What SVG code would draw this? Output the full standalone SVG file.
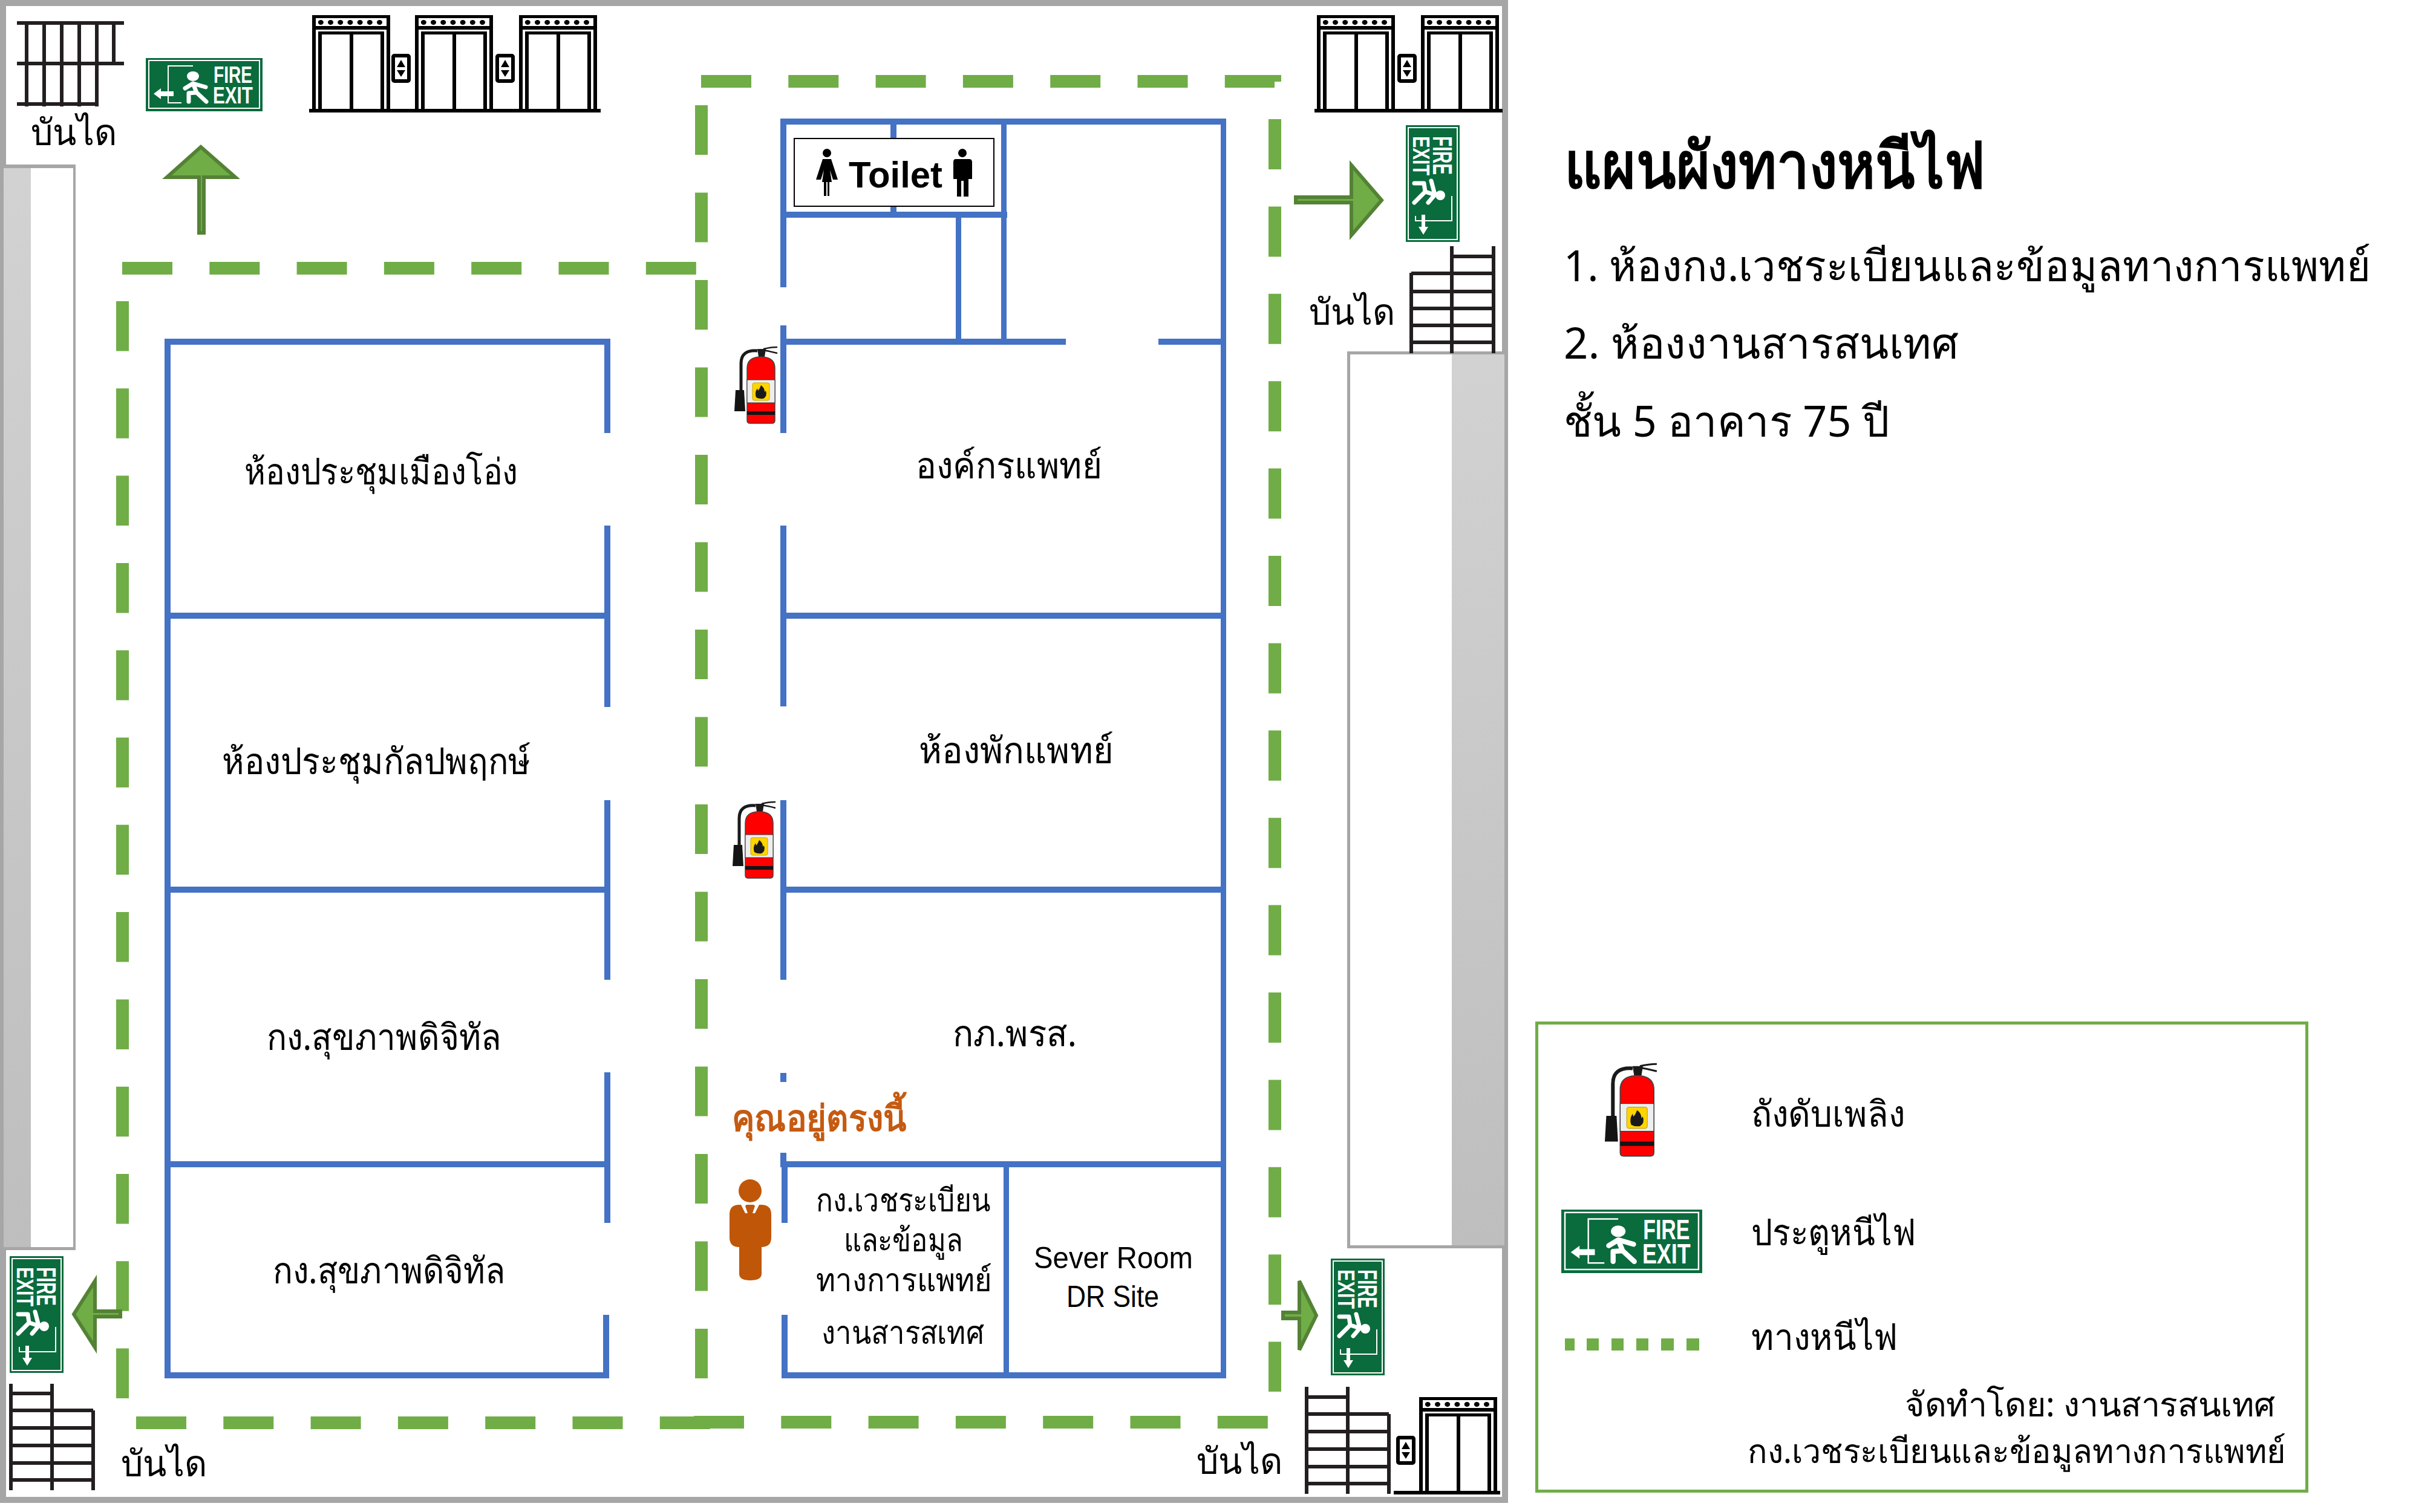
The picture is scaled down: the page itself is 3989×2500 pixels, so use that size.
<svg xmlns="http://www.w3.org/2000/svg" width="3989" height="2500" viewBox="0 0 3989 2500">
<style>
text{font-family:"Noto Sans","DejaVu Sans","Liberation Sans",sans-serif;fill:#000}
.r{font-size:60px}.r2{font-size:53px}.l{font-size:71px}.k{font-size:60px}
.h{font-size:105px;font-weight:700}.b{font-size:60px}.f{font-size:56px}
.w{fill:#4472c4}.g{fill:#a6a6a6}.bk{fill:#000}
.s{stroke:#231f20;stroke-width:6;fill:none}
.a{fill:#70ad47;stroke:#548235;stroke-width:6}
.dash{fill:none;stroke:#70ad47;stroke-width:21}
.si{fill:#0a6b3d}.sl{fill:none;stroke:#fff;stroke-width:2}
.fg{fill:none;stroke:#fff;stroke-width:7;stroke-linecap:round;stroke-linejoin:round}
.st{font-family:"Liberation Sans",sans-serif;font-weight:700;fill:#fff}
.lat{font-family:"Liberation Sans",sans-serif;font-size:50px}
</style>
<defs>
<linearGradient id="gr" x1="0" y1="0" x2="0" y2="1"><stop offset="0" stop-color="#d2d2d2"/><stop offset="1" stop-color="#bebebe"/></linearGradient>
<g id="lift" class="bk">
<rect x="0" y="0" width="129" height="5" rx="2"/><rect x="0" y="18" width="129" height="6"/>
<rect x="0" y="0" width="6" height="155"/><rect x="123" y="0" width="6" height="155"/>
<rect x="10" y="27" width="109" height="5" rx="2"/><rect x="10" y="27" width="6" height="128"/><rect x="113" y="27" width="6" height="128"/><rect x="62" y="30" width="6" height="125"/>
<ellipse cx="14.3" cy="12" rx="4.5" ry="4"/><ellipse cx="30.5" cy="12" rx="4.5" ry="4"/><ellipse cx="46.7" cy="12" rx="4.5" ry="4"/><ellipse cx="62.9" cy="12" rx="4.5" ry="4"/><ellipse cx="79.1" cy="12" rx="4.5" ry="4"/><ellipse cx="95.3" cy="12" rx="4.5" ry="4"/><ellipse cx="111.5" cy="12" rx="4.5" ry="4"/>
</g>
<g id="panel">
<rect x="3" y="3" width="26" height="42" rx="2" fill="#fff" stroke="#000" stroke-width="6"/>
<path d="M16 10L23 22H9ZM9 27H23L16 38Z" fill="#000"/>
</g>
<g id="signH">
<rect class="si" width="193" height="88"/><rect class="sl" x="5" y="4" width="183" height="79"/>
<path class="sl" d="M78 13H37V74H59"/>
<path d="M13 59L25 50V55H46V63H25V68Z" fill="#fff"/>
<ellipse cx="78" cy="30" rx="10" ry="8" fill="#fff"/>
<path class="fg" d="M65 50L78 42L99 48M78 42L84 57L100 72M84 57L71 58V72"/>
<text class="st" x="112" y="41" font-size="38" textLength="64" lengthAdjust="spacingAndGlyphs">FIRE</text>
<text class="st" x="111" y="75" font-size="38" textLength="66" lengthAdjust="spacingAndGlyphs">EXIT</text>
</g>
<g id="signV">
<rect class="si" width="89" height="193"/><rect class="sl" x="4" y="4" width="81" height="185"/>
<path class="sl" d="M76 117V158H16V150"/>
<path d="M29 181L21 168H26V148H32V168H37Z" fill="#fff"/>
<circle cx="57" cy="116" r="8" fill="#fff"/>
<path class="fg" stroke-width="6" d="M42 92L48 115L37 128M48 115L32 110L14 128M32 110L30 96H14"/>
<text class="st" font-size="45" transform="translate(45 18) rotate(90)" textLength="64" lengthAdjust="spacingAndGlyphs">FIRE</text>
<text class="st" font-size="39" transform="translate(12 18) rotate(90)" textLength="65" lengthAdjust="spacingAndGlyphs">EXIT</text>
</g>
<g id="ext">
<path d="M38 7Q11 5 11 28V72" fill="none" stroke="#1a1a1a" stroke-width="5"/>
<path d="M2 72H16L18 107H0Z" fill="#141414"/>
<path d="M38 4H52L50 17H40Z" fill="#1a1a1a"/>
<path d="M48 4Q60 1 71 1M48 6Q60 8 71 11" fill="none" stroke="#1a1a1a" stroke-width="2.5"/>
<path d="M21 122V36Q21 17 44 17Q67 17 67 36V122Q67 127 62 127H26Q21 127 21 122Z" fill="#f00" stroke="#444" stroke-width="1.5"/>
<rect x="21" y="55" width="46" height="38" fill="#eee" stroke="#333" stroke-width="1"/>
<rect x="30" y="60" width="28" height="29" rx="3" fill="#ffd500" stroke="#c9a400"/>
<path d="M44 64Q42 70 39 73L38 69Q33 76 36 84Q41 87 48 86Q55 82 52 73L50 75Q50 68 44 64Z" fill="#1a1a1a"/>
<rect x="21" y="107" width="46" height="6" fill="#141414"/>
</g>
</defs>
<rect width="3989" height="2500" fill="#fff"/>

<g id="frame">
<rect x="5" y="5" width="2483" height="2475" fill="none" stroke="#a6a6a6" stroke-width="10"/>
<rect x="6" y="278" width="45" height="1784" fill="url(#gr)"/>
<path class="g" d="M6 272H125V2067H6V2062H121V278H6Z"/>
<rect x="2400" y="586" width="87" height="1473" fill="url(#gr)"/>
<path class="g" d="M2227 581H2488V586H2232V2059H2488V2064H2227Z"/>
</g>

<g id="exit-routes">
<path class="dash" stroke-dasharray="83 61.3" d="M202 443.5H1152"/>
<path class="dash" stroke-dasharray="82.5 61.8" d="M202.500 498V2313"/>
<path class="dash" stroke-dasharray="83 61.3" d="M225 2352.500H1174"/>
<path class="dash" stroke-dasharray="82 62.5" d="M1159.500 174V2363"/>
<path class="dash" stroke-dasharray="83 61.3" d="M1159 134.500H2107"/>
<rect x="2097" y="124" width="21" height="11" fill="#70ad47"/>
<path class="dash" stroke-dasharray="83 61.4" d="M2107.500 197V2301"/>
<path class="dash" stroke-dasharray="83 61.3" d="M1147 2351.500H2097"/>
<path class="a" d="M329 385V293H276L332 243L389 293H337V385Z"/>
<path class="a" d="M2142 326H2234V273L2284 331L2234 389V335H2142Z"/>
<path class="a" d="M199 2168H157V2118L122 2173L157 2228V2177H199Z"/>
<path class="a" d="M2121 2170H2148V2118L2176 2175L2148 2232V2180H2121Z"/>
</g>

<g id="walls">
<path class="w" d="M272 560H1009V716H999V570H282V2269H997V2174H1007V2279H272Z"/>
<rect class="w" x="999" y="869" width="10" height="300"/>
<rect class="w" x="999" y="1323" width="10" height="297"/>
<rect class="w" x="999" y="1773" width="10" height="249"/>
<rect class="w" x="282" y="1013" width="717" height="10"/>
<rect class="w" x="282" y="1466" width="717" height="10"/>
<rect class="w" x="282" y="1920" width="717" height="10"/>
<rect class="w" x="1290" y="196" width="737" height="10"/>
<rect class="w" x="2018" y="196" width="9" height="2083"/>
<rect class="w" x="1290" y="196" width="10" height="279"/>
<rect class="w" x="1472" y="206" width="10" height="144"/>
<rect class="w" x="1290" y="350" width="375" height="10"/>
<rect class="w" x="1655" y="196" width="9" height="364"/>
<rect class="w" x="1580" y="360" width="9" height="200"/>
<rect class="w" x="1290" y="560" width="472" height="10"/>
<rect class="w" x="1915" y="560" width="112" height="10"/>
<rect class="w" x="1290" y="538" width="10" height="178"/>
<rect class="w" x="1290" y="869" width="10" height="299"/>
<rect class="w" x="1300" y="1013" width="720" height="10"/>
<rect class="w" x="1290" y="1323" width="10" height="297"/>
<rect class="w" x="1300" y="1466" width="720" height="10"/>
<rect class="w" x="1290" y="1774" width="10" height="15"/>
<rect class="w" x="1290" y="1906" width="10" height="24"/>
<rect class="w" x="1290" y="1920" width="737" height="10"/>
<rect class="w" x="1292" y="1920" width="10" height="102"/>
<rect class="w" x="1292" y="2174" width="10" height="105"/>
<rect class="w" x="1292" y="2269" width="735" height="10"/>
<rect class="w" x="1659" y="1930" width="9" height="340"/>
</g>

<g id="toilet">
<rect x="1313" y="229" width="330" height="112" fill="#fff" stroke="#000" stroke-width="2"/>
<circle cx="1367" cy="253" r="7"/>
<path d="M1360 263H1374L1385 297H1377L1372 281L1375 301H1371V324H1368V301H1366V324H1362V301H1359L1362 281L1357 297H1349Z"/>
<circle cx="1591" cy="253" r="7"/>
<path d="M1580 263H1602Q1607 263 1607 268V296H1601V325H1593V299H1589V325H1582V296H1576V268Q1576 263 1580 263Z"/>
<text style="font-family:'Liberation Sans',sans-serif;font-weight:700" font-size="61" x="1403" y="310" textLength="155" lengthAdjust="spacingAndGlyphs">Toilet</text>
</g>

<g id="stairs-tl"><path class="s" d="M28 38H205M28 105H205M28 172H160M44 35V176M73 35V176M102 35V176M131 35V176M160 35V176M188 35V105"/>
<text class="b" x="51" y="240" textLength="142" lengthAdjust="spacingAndGlyphs">บันได</text></g>
<g id="stairs-tr"><path class="s" d="M2333 451V584M2400 407V584M2469 407V584M2400 424H2469M2333 452H2469M2333 482H2469M2333 510H2469M2333 538H2469M2333 566H2469"/>
<text class="b" x="2164" y="537" textLength="142" lengthAdjust="spacingAndGlyphs">บันได</text></g>
<g id="stairs-bl"><path class="s" d="M18 2288V2464M86 2288V2464M154 2332V2464M18 2304H86M18 2332H154M18 2361H154M18 2390H154M18 2419H154M18 2447H154"/>
<text class="b" x="200" y="2441" textLength="142" lengthAdjust="spacingAndGlyphs">บันได</text></g>
<g id="stairs-br"><path class="s" d="M2160 2293V2470M2228 2293V2470M2296 2338V2470M2160 2310H2228M2160 2338H2296M2160 2367H2296M2160 2396H2296M2160 2425H2296M2160 2453H2296"/>
<text class="b" x="1978" y="2437" textLength="142" lengthAdjust="spacingAndGlyphs">บันได</text></g>

<g id="lifts-tl">
<use href="#lift" x="516" y="25"/><use href="#lift" x="686" y="25"/><use href="#lift" x="858" y="25"/>
<use href="#panel" x="647" y="89"/><use href="#panel" x="819" y="89"/>
<rect class="bk" x="511" y="180" width="482" height="6"/>
</g>
<g id="lifts-tr">
<use href="#lift" x="2177" y="25"/><use href="#lift" x="2349" y="25"/>
<use href="#panel" x="2310" y="89"/>
<rect class="bk" x="2173" y="180" width="311" height="6"/>
</g>
<g id="lifts-br">
<use href="#lift" x="2346" y="2310"/><use href="#panel" x="2308" y="2374"/>
<rect class="bk" x="2304" y="2465" width="176" height="6"/>
</g>

<g id="signs">
<use href="#signH" x="241" y="96"/>
<use href="#signV" x="2324" y="207"/>
<use href="#signV" x="16" y="2077"/>
<use href="#signV" x="2200" y="2081"/>
</g>
<g id="extinguishers">
<use href="#ext" x="1214" y="573"/>
<use href="#ext" x="1211" y="1325"/>
</g>

<g id="room-1"><text class="r" x="404" y="801" textLength="452" lengthAdjust="spacingAndGlyphs">ห้องประชุมเมืองโอ่ง</text></g>
<g id="room-2"><text class="r" x="367" y="1280" textLength="510" lengthAdjust="spacingAndGlyphs">ห้องประชุมกัลปพฤกษ์</text></g>
<g id="room-3"><text class="r" x="441" y="1736" textLength="388" lengthAdjust="spacingAndGlyphs">กง.สุขภาพดิจิทัล</text></g>
<g id="room-4"><text class="r" x="451" y="2122" textLength="385" lengthAdjust="spacingAndGlyphs">กง.สุขภาพดิจิทัล</text></g>
<g id="room-5"><text class="r" x="1514" y="791" textLength="308" lengthAdjust="spacingAndGlyphs">องค์กรแพทย์</text></g>
<g id="room-6"><text class="r" x="1519" y="1262" textLength="322" lengthAdjust="spacingAndGlyphs">ห้องพักแพทย์</text></g>
<g id="room-7"><text class="r" x="1575" y="1730" textLength="205" lengthAdjust="spacingAndGlyphs">กภ.พรส.</text></g>
<g id="room-8">
<text class="r2" x="1349" y="2003" textLength="288" lengthAdjust="spacingAndGlyphs">กง.เวชระเบียน</text>
<text class="r2" x="1395" y="2069" textLength="196" lengthAdjust="spacingAndGlyphs">และข้อมูล</text>
<text class="r2" x="1349" y="2135" textLength="291" lengthAdjust="spacingAndGlyphs">ทางการแพทย์</text>
<text class="r2" x="1358" y="2222" textLength="269" lengthAdjust="spacingAndGlyphs">งานสารสเทศ</text>
</g>
<g id="room-9">
<text class="lat" x="1709" y="2097" textLength="263" lengthAdjust="spacingAndGlyphs">Sever Room</text>
<text class="lat" x="1763" y="2161" textLength="153" lengthAdjust="spacingAndGlyphs">DR Site</text>
</g>

<g id="you-are-here">
<text style="fill:#c55a11;font-weight:700" font-size="60" x="1210" y="1870" textLength="288" lengthAdjust="spacingAndGlyphs">คุณอยู่ตรงนี้</text>
<circle cx="1240" cy="1969" r="19" fill="#bf5608"/>
<path fill="#bf5608" d="M1206 2008Q1206 1992 1222 1992H1225L1232 2006H1236L1232 1994L1234 1992H1246L1248 1994L1244 2006H1248L1255 1992H1258Q1275 1992 1275 2008V2046Q1275 2062 1259 2062V2106Q1259 2117 1240 2117Q1222 2117 1222 2106V2062Q1206 2062 1206 2046Z"/>
</g>

<g id="heading">
<text class="h" x="2586" y="310" textLength="696" lengthAdjust="spacingAndGlyphs">แผนผังทางหนีไฟ</text>
<text class="l" x="2585" y="465" textLength="1334" lengthAdjust="spacingAndGlyphs">1. ห้องกง.เวชระเบียนและข้อมูลทางการแพทย์</text>
<text class="l" x="2585" y="593" textLength="653" lengthAdjust="spacingAndGlyphs">2. ห้องงานสารสนเทศ</text>
<text class="l" x="2585" y="722" textLength="538" lengthAdjust="spacingAndGlyphs">ชั้น 5 อาคาร 75 ปี</text>
</g>

<g id="legend">
<rect x="2540.500" y="1691.500" width="1273" height="774" fill="none" stroke="#70ad47" stroke-width="5"/>
<use href="#ext" transform="translate(2653 1758) scale(1.21)"/>
<use href="#signH" transform="translate(2581 2000) scale(1.207 1.193)"/>
<g fill="#70ad47"><rect x="2587" y="2213" width="16" height="20"/><rect x="2623" y="2213" width="20" height="20"/><rect x="2664" y="2213" width="20" height="20"/><rect x="2705" y="2213" width="20" height="20"/><rect x="2746" y="2213" width="21" height="20"/><rect x="2788" y="2213" width="21" height="20"/></g>
<text class="k" x="2895" y="1863" textLength="254" lengthAdjust="spacingAndGlyphs">ถังดับเพลิง</text>
<text class="k" x="2895" y="2059" textLength="272" lengthAdjust="spacingAndGlyphs">ประตูหนีไฟ</text>
<text class="k" x="2895" y="2232" textLength="242" lengthAdjust="spacingAndGlyphs">ทางหนีไฟ</text>
<text class="f" x="3149" y="2342" textLength="613" lengthAdjust="spacingAndGlyphs">จัดทำโดย: งานสารสนเทศ</text>
<text class="f" x="2889" y="2419" textLength="890" lengthAdjust="spacingAndGlyphs">กง.เวชระเบียนและข้อมูลทางการแพทย์</text>
</g>
</svg>
